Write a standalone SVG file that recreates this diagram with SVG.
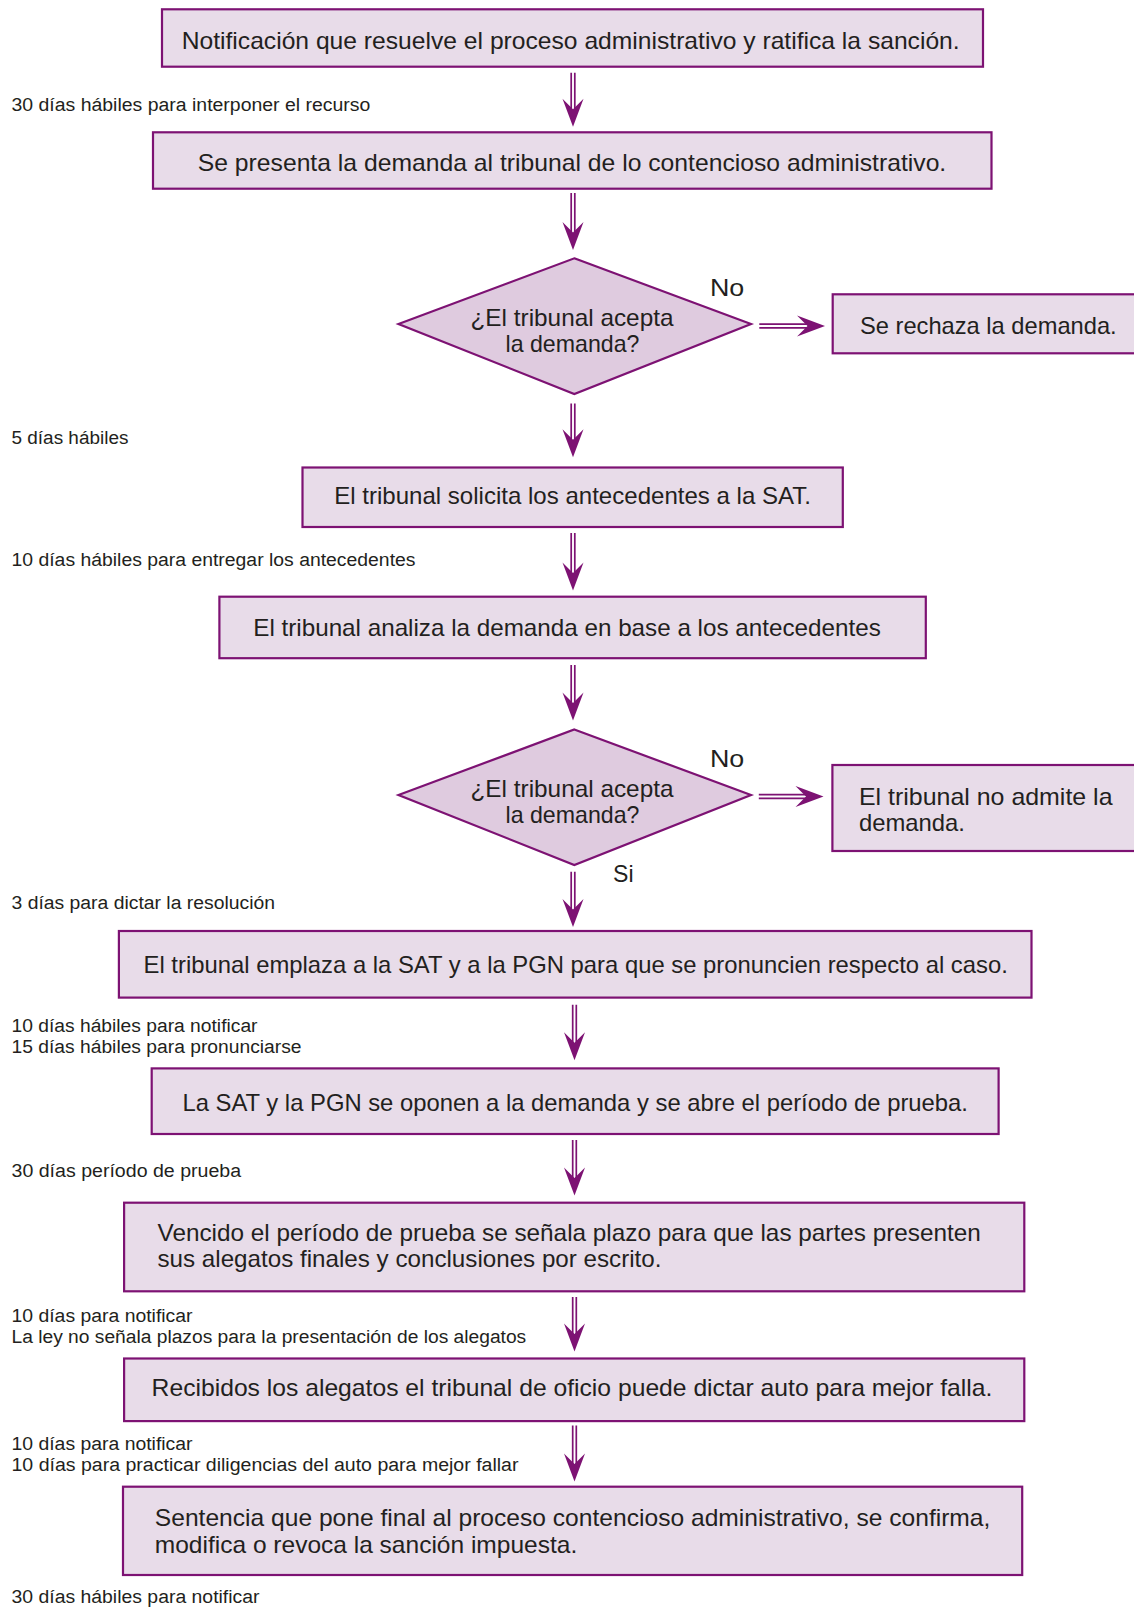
<svg xmlns="http://www.w3.org/2000/svg" xmlns:xlink="http://www.w3.org/1999/xlink" width="1134" height="1608" viewBox="0 0 1134 1608">
  <style>
    .box { fill: #e8dce9; stroke: #7d1273; stroke-width: 2.2; }
    .dia { fill: #dfcbdf; stroke: #7d1273; stroke-width: 2.2; stroke-linejoin: miter; }
    .t { font-family: "Liberation Sans", Arial, sans-serif; font-size: 23.2px; fill: #231f20; }
    .c { text-anchor: middle; }
    .yn { font-family: "Liberation Sans", Arial, sans-serif; font-size: 24px; fill: #231f20; }
    .lbl { font-family: "Liberation Sans", Arial, sans-serif; font-size: 18px; fill: #231f20; }
    .shaft { stroke: #7d1273; stroke-width: 1.7; fill: none; }
    .head { fill: #7d1273; }
  </style>
  <defs>
    <!-- barbed arrowheads, tip at the origin -->
    <path id="headDown" d="M0,0 L-10.5,-28 L0,-17.5 L10.5,-28 Z"/>
    <path id="headRight" d="M0,0 L-28,-10.5 L-17.5,0 L-28,10.5 Z"/>
  </defs>

  <rect width="1134" height="1608" fill="#ffffff"/>

  <!-- connectors: double-line shafts with barbed heads -->
  <g id="connectors">
    <g class="shaft">
      <path d="M571.2,72.7 V110 M574.8,72.7 V110"/>
      <path d="M571.2,193 V233 M574.8,193 V233"/>
      <path d="M571.2,403.5 V440 M574.8,403.5 V440"/>
      <path d="M571.2,533 V574 M574.8,533 V574"/>
      <path d="M571.2,665 V703 M574.8,665 V703"/>
      <path d="M571.2,871.7 V910 M574.8,871.7 V910"/>
      <path d="M572.7,1004.8 V1043 M576.3,1004.8 V1043"/>
      <path d="M572.7,1140 V1178 M576.3,1140 V1178"/>
      <path d="M572.7,1297 V1335 M576.3,1297 V1335"/>
      <path d="M572.7,1425.5 V1465 M576.3,1425.5 V1465"/>
      <path d="M759.3,324.2 H808 M759.3,327.8 H808"/>
      <path d="M758.8,794.7 H806.5 M758.8,798.3 H806.5"/>
    </g>
    <g class="head">
      <use xlink:href="#headDown" x="573" y="126.7"/>
      <use xlink:href="#headDown" x="573" y="250"/>
      <use xlink:href="#headDown" x="573" y="457.3"/>
      <use xlink:href="#headDown" x="573" y="590.6"/>
      <use xlink:href="#headDown" x="573" y="720.5"/>
      <use xlink:href="#headDown" x="573" y="927"/>
      <use xlink:href="#headDown" x="574.5" y="1060.2"/>
      <use xlink:href="#headDown" x="574.5" y="1195.5"/>
      <use xlink:href="#headDown" x="574.5" y="1351.5"/>
      <use xlink:href="#headDown" x="574.5" y="1481.6"/>
      <use xlink:href="#headRight" x="825" y="326"/>
      <use xlink:href="#headRight" x="823.5" y="796.5"/>
    </g>
    <text class="yn" x="710" y="295.7" textLength="34.3" lengthAdjust="spacingAndGlyphs">No</text>
    <text class="yn" x="710" y="766.5" textLength="34.3" lengthAdjust="spacingAndGlyphs">No</text>
    <text class="yn" x="613" y="881.7" textLength="20.5" lengthAdjust="spacingAndGlyphs">Si</text>
  </g>

  <!-- time limits between steps -->
  <g id="labels" class="lbl">
    <text x="11.5" y="111" textLength="358.8" lengthAdjust="spacingAndGlyphs">30 días hábiles para interponer el recurso</text>
    <text x="11.5" y="444" textLength="116.9" lengthAdjust="spacingAndGlyphs">5 días hábiles</text>
    <text x="11.5" y="566" textLength="404" lengthAdjust="spacingAndGlyphs">10 días hábiles para entregar los antecedentes</text>
    <text x="11.5" y="909" textLength="263.5" lengthAdjust="spacingAndGlyphs">3 días para dictar la resolución</text>
    <text><tspan x="11.5" y="1032" textLength="246" lengthAdjust="spacingAndGlyphs">10 días hábiles para notificar</tspan><tspan x="11.5" y="1053" textLength="290" lengthAdjust="spacingAndGlyphs">15 días hábiles para pronunciarse</tspan></text>
    <text x="11.5" y="1177" textLength="229.6" lengthAdjust="spacingAndGlyphs">30 días período de prueba</text>
    <text><tspan x="11.5" y="1322" textLength="181" lengthAdjust="spacingAndGlyphs">10 días para notificar</tspan><tspan x="11.5" y="1343" textLength="514.7" lengthAdjust="spacingAndGlyphs">La ley no señala plazos para la presentación de los alegatos</tspan></text>
    <text><tspan x="11.5" y="1450" textLength="181" lengthAdjust="spacingAndGlyphs">10 días para notificar</tspan><tspan x="11.5" y="1471" textLength="507" lengthAdjust="spacingAndGlyphs">10 días para practicar diligencias del auto para mejor fallar</tspan></text>
    <text x="11.5" y="1603" textLength="248" lengthAdjust="spacingAndGlyphs">30 días hábiles para notificar</text>
  </g>

  <g id="n1">
    <rect class="box" x="162" y="9.3" width="821" height="57.4"/>
    <text class="t c" x="570.7" y="49.3" textLength="778" lengthAdjust="spacingAndGlyphs">Notificación que resuelve el proceso administrativo y ratifica la sanción.</text>
  </g>
  <g id="n2">
    <rect class="box" x="153" y="132.3" width="838.5" height="56.4"/>
    <text class="t c" x="572" y="171" textLength="748.5" lengthAdjust="spacingAndGlyphs">Se presenta la demanda al tribunal de lo contencioso administrativo.</text>
  </g>
  <g id="d1">
    <polygon class="dia" points="574.3,258.3 751,324 574.3,394 398.5,324"/>
    <text class="t c"><tspan x="572" y="325.5" textLength="203" lengthAdjust="spacingAndGlyphs">¿El tribunal acepta</tspan><tspan x="572.5" y="352" textLength="134" lengthAdjust="spacingAndGlyphs">la demanda?</tspan></text>
  </g>
  <g id="r1">
    <rect class="box" x="832.7" y="294.3" width="320" height="59"/>
    <text class="t" x="860" y="334.3" textLength="256.7" lengthAdjust="spacingAndGlyphs">Se rechaza la demanda.</text>
  </g>
  <g id="n3">
    <rect class="box" x="302.5" y="467.5" width="540.3" height="59.5"/>
    <text class="t c" x="572.6" y="504" textLength="476.8" lengthAdjust="spacingAndGlyphs">El tribunal solicita los antecedentes a la SAT.</text>
  </g>
  <g id="n4">
    <rect class="box" x="219.4" y="596.7" width="706.4" height="61.5"/>
    <text class="t c" x="567" y="635.5" textLength="627.5" lengthAdjust="spacingAndGlyphs">El tribunal analiza la demanda en base a los antecedentes</text>
  </g>
  <g id="d2">
    <polygon class="dia" points="574.3,729.5 751,795 574.3,865 398.5,795"/>
    <text class="t c"><tspan x="572" y="796.5" textLength="203" lengthAdjust="spacingAndGlyphs">¿El tribunal acepta</tspan><tspan x="572.5" y="823" textLength="134" lengthAdjust="spacingAndGlyphs">la demanda?</tspan></text>
  </g>
  <g id="r2">
    <rect class="box" x="832.4" y="765" width="320" height="86"/>
    <text class="t"><tspan x="859" y="805" textLength="253.5" lengthAdjust="spacingAndGlyphs">El tribunal no admite la</tspan><tspan x="859" y="830.5" textLength="106" lengthAdjust="spacingAndGlyphs">demanda.</tspan></text>
  </g>
  <g id="n5">
    <rect class="box" x="118.9" y="931" width="912.6" height="66.6"/>
    <text class="t c" x="575.7" y="973" textLength="864.3" lengthAdjust="spacingAndGlyphs">El tribunal emplaza a la SAT y a la PGN para que se pronuncien respecto al caso.</text>
  </g>
  <g id="n6">
    <rect class="box" x="151.7" y="1068.4" width="846.9" height="65.6"/>
    <text class="t c" x="575.2" y="1111" textLength="785.4" lengthAdjust="spacingAndGlyphs">La SAT y la PGN se oponen a la demanda y se abre el período de prueba.</text>
  </g>
  <g id="n7">
    <rect class="box" x="124.1" y="1202.7" width="900.2" height="88.6"/>
    <text class="t"><tspan x="157.5" y="1241" textLength="823.3" lengthAdjust="spacingAndGlyphs">Vencido el período de prueba se señala plazo para que las partes presenten</tspan><tspan x="157.5" y="1267" textLength="504" lengthAdjust="spacingAndGlyphs">sus alegatos finales y conclusiones por escrito.</tspan></text>
  </g>
  <g id="n8">
    <rect class="box" x="124.1" y="1358.5" width="900.2" height="62.6"/>
    <text class="t c" x="572" y="1396" textLength="840.8" lengthAdjust="spacingAndGlyphs">Recibidos los alegatos el tribunal de oficio puede dictar auto para mejor falla.</text>
  </g>
  <g id="n9">
    <rect class="box" x="123" y="1486.7" width="899.2" height="88.3"/>
    <text class="t"><tspan x="154.8" y="1526" textLength="835.6" lengthAdjust="spacingAndGlyphs">Sentencia que pone final al proceso contencioso administrativo, se confirma,</tspan><tspan x="154.8" y="1552.5" textLength="422.4" lengthAdjust="spacingAndGlyphs">modifica o revoca la sanción impuesta.</tspan></text>
  </g>
</svg>
